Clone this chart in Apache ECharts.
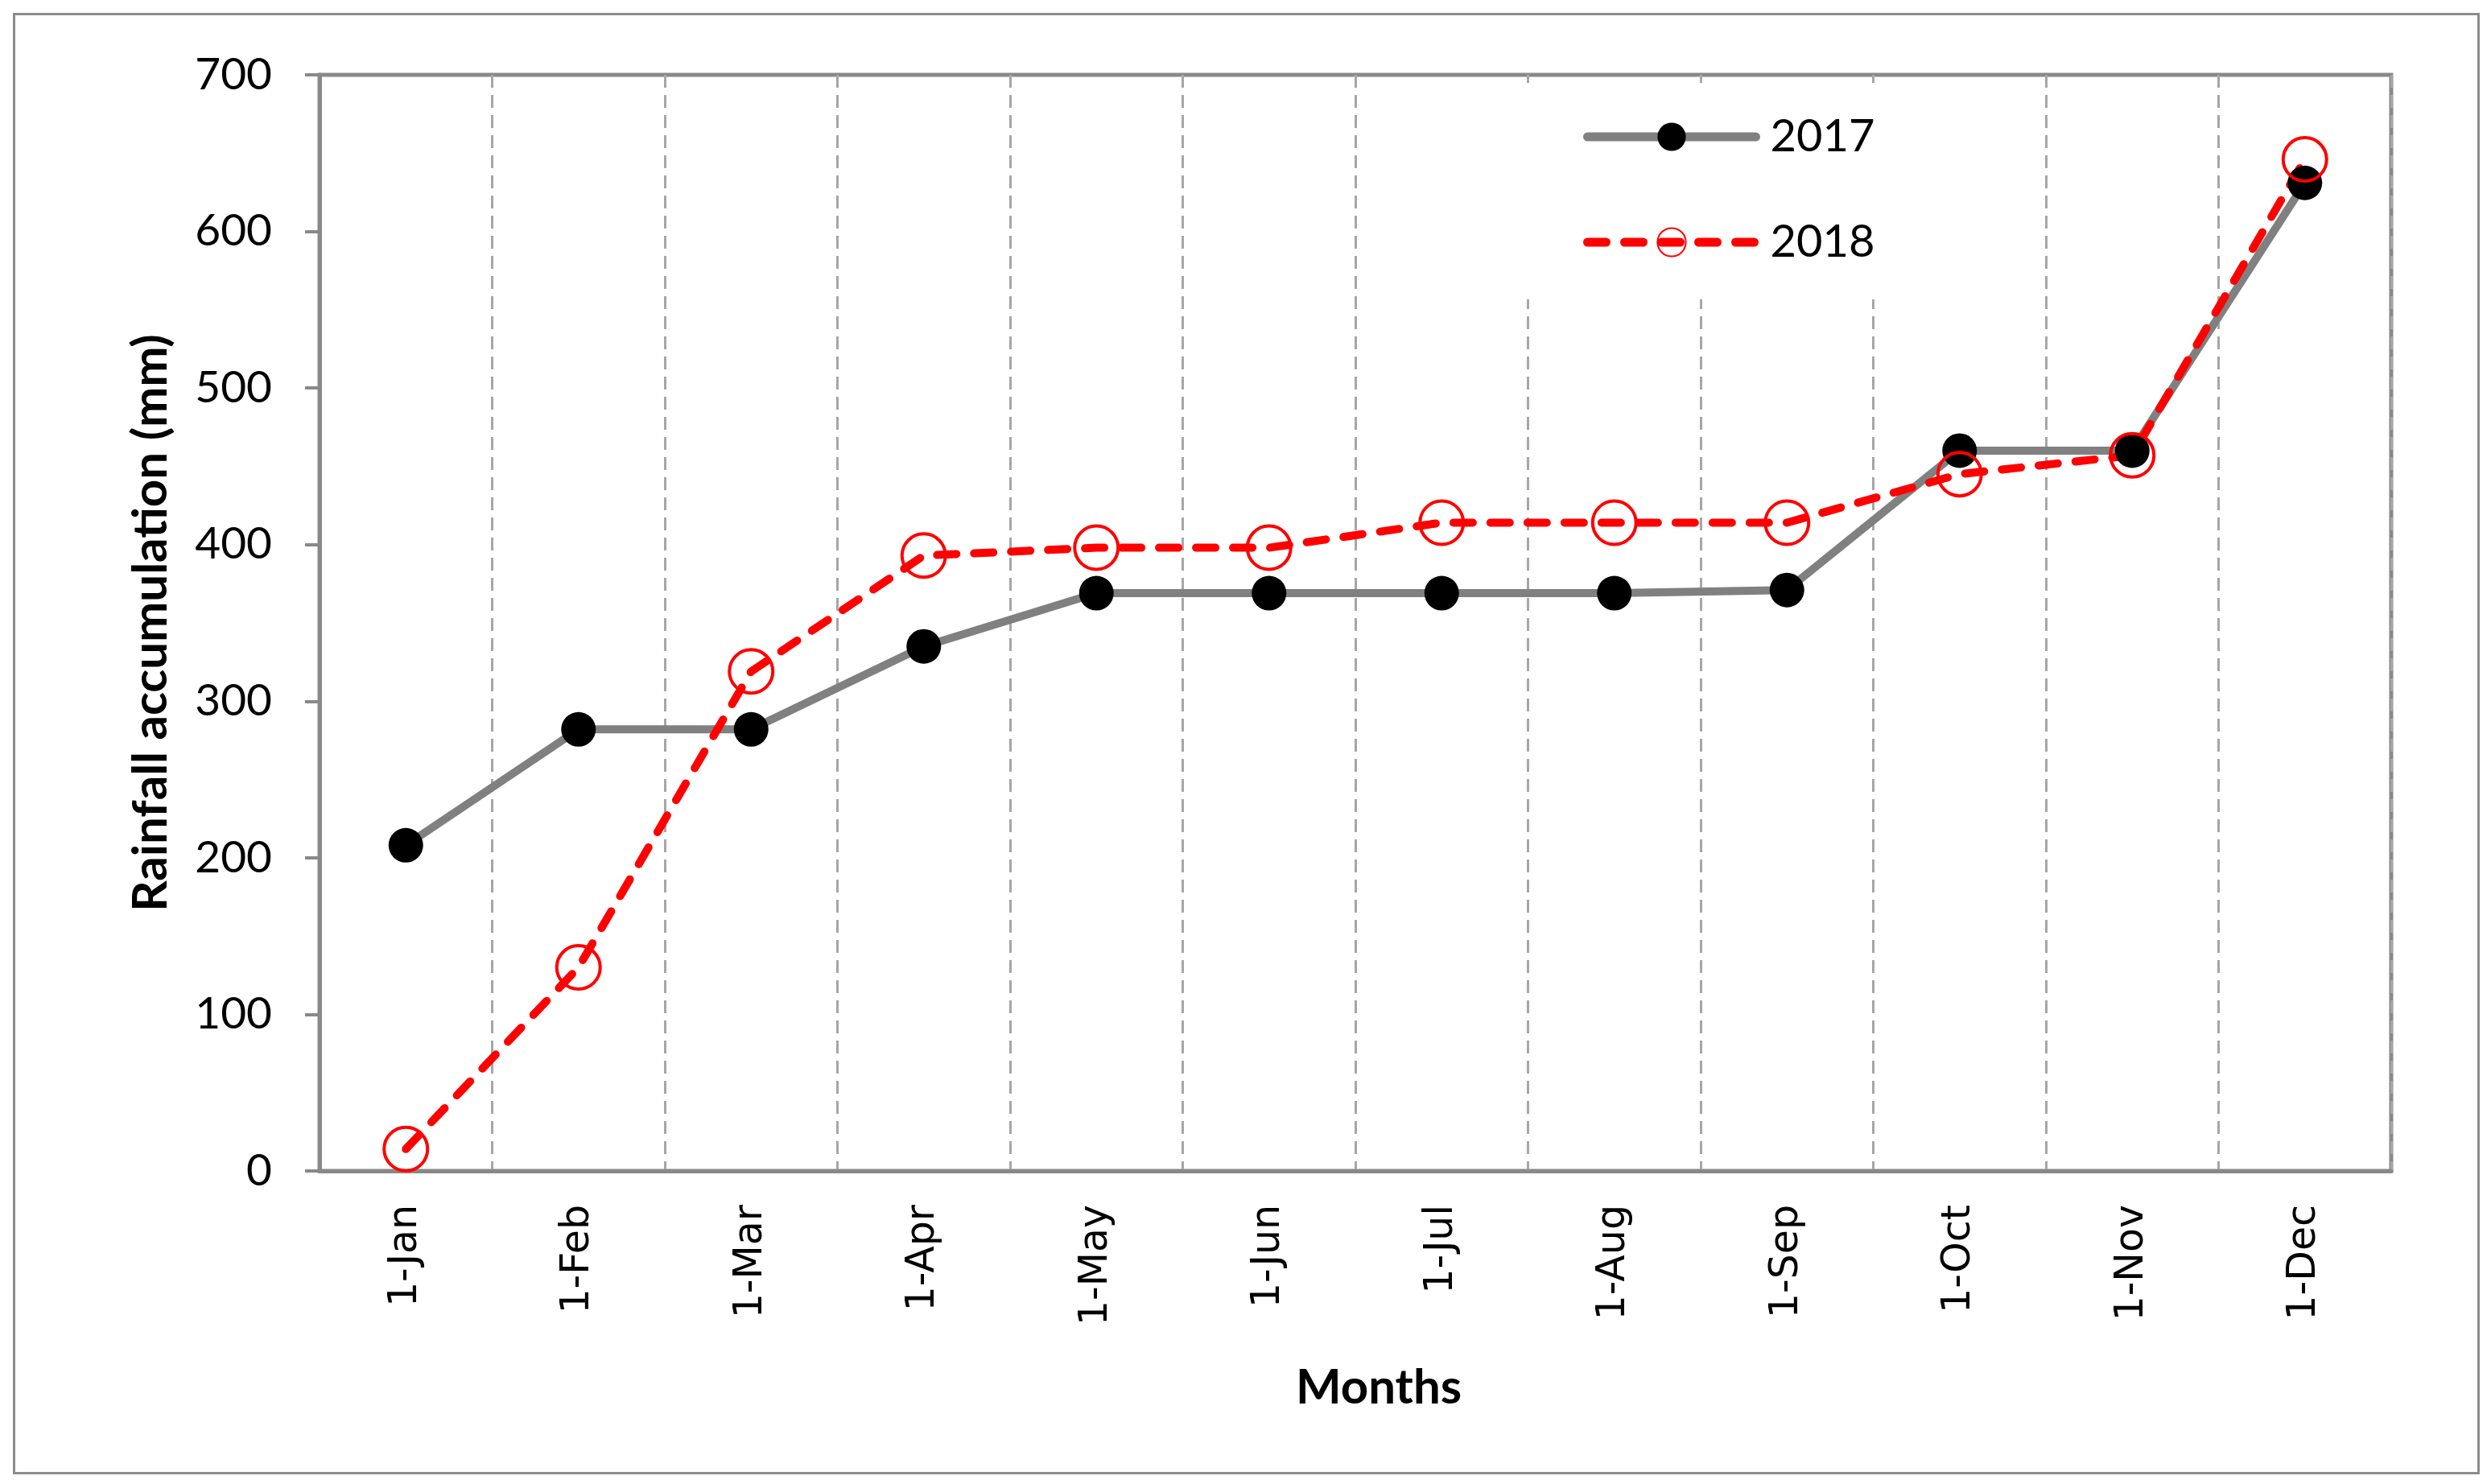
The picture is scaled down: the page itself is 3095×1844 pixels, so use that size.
<!DOCTYPE html>
<html>
<head>
<meta charset="utf-8">
<script src="https://cdn.jsdelivr.net/npm/echarts@6/dist/echarts.min.js"></script>
<style>
html,body{margin:0;padding:0;background:#fff;}
#chart{width:3095px;height:1844px;}
</style>
</head>
<body>
<div id="chart"></div>
<script>
const months = ['1-Jan','1-Feb','1-Mar','1-Apr','1-May','1-Jun','1-Jul','1-Aug','1-Sep','1-Oct','1-Nov','1-Dec'];
const rain2017 = [208, 282, 282, 335, 369, 369, 369, 369, 371, 460, 460, 631];
const rain2018 = [14, 130, 319, 393, 398, 398, 414, 414, 414, 445, 457, 646];
const yTicks = [0, 100, 200, 300, 400, 500, 600, 700];
const seriesNames = ['2017', '2018'];

const chart = echarts.init(document.getElementById('chart'));
const axisGray = '#898989';
chart.setOption({
  backgroundColor: '#ffffff',
  animation: false,
  graphic: [{
    type: 'rect', left: 15, top: 15, z: -10,
    shape: { width: 3062, height: 1813 },
    style: { fill: 'none', stroke: '#8c8c8c', lineWidth: 3 }
  }],
  grid: {
    left: 397, right: 124, top: 93, bottom: 389,
    show: true, borderColor: axisGray, borderWidth: 5, backgroundColor: 'transparent'
  },
  legend: {
    orient: 'vertical',
    left: 1880, top: 103,
    padding: [39, 40, 43, 87],
    backgroundColor: '#ffffff',
    itemWidth: 209, itemHeight: 44, itemGap: 75,
    textStyle: { fontFamily: 'Lato', fontSize: 56, color: '#000', padding: [0, 0, 0, 13] },
    data: [
      { name: seriesNames[0], lineStyle: { color: '#808080', width: 11, cap: 'round', type: 'solid' } },
      { name: seriesNames[1], lineStyle: { color: '#ff0000', width: 11, cap: 'round', type: [23, 23] } }
    ]
  },
  xAxis: {
    type: 'category',
    data: months,
    boundaryGap: true,
    name: 'Months',
    nameLocation: 'middle',
    nameGap: 240,
    nameTextStyle: { fontFamily: 'Lato', fontWeight: 'bold', fontSize: 60, color: '#000', padding: [0, 0, 0, 58] },
    axisLine: { lineStyle: { color: axisGray, width: 5 } },
    axisTick: { show: false },
    axisLabel: { rotate: 90, margin: 42, fontFamily: 'DejaVu Sans', fontSize: 49, color: '#000', interval: 0 },
    splitLine: { show: true, lineStyle: { color: '#a6a6a6', width: 3, type: [16, 9] } }
  },
  yAxis: {
    type: 'value',
    min: yTicks[0], max: yTicks[yTicks.length - 1], interval: 100,
    name: 'Rainfall accumulation (mm)',
    nameLocation: 'middle',
    nameGap: 179,
    nameTextStyle: { fontFamily: 'Lato', fontWeight: 'bold', fontSize: 60, color: '#000' },
    axisLine: { show: true, lineStyle: { color: axisGray, width: 5 } },
    axisTick: { show: true, length: 18, lineStyle: { color: axisGray, width: 4 } },
    axisLabel: { margin: 59, fontFamily: 'Lato', fontSize: 55, color: '#000' },
    splitLine: { show: false }
  },
  series: [
    {
      name: seriesNames[0], type: 'line', data: rain2017,
      symbol: 'circle', symbolSize: 43,
      lineStyle: { color: '#808080', width: 10, cap: 'round' },
      itemStyle: { color: '#000000' }
    },
    {
      name: seriesNames[1], type: 'line', data: rain2018,
      symbol: 'circle', symbolSize: 54,
      lineStyle: { color: '#ff0000', width: 10, type: [24, 22], cap: 'round' },
      itemStyle: { color: 'rgba(0,0,0,0)', borderColor: '#ff0000', borderWidth: 4 }
    }
  ]
});
</script>
</body>
</html>
